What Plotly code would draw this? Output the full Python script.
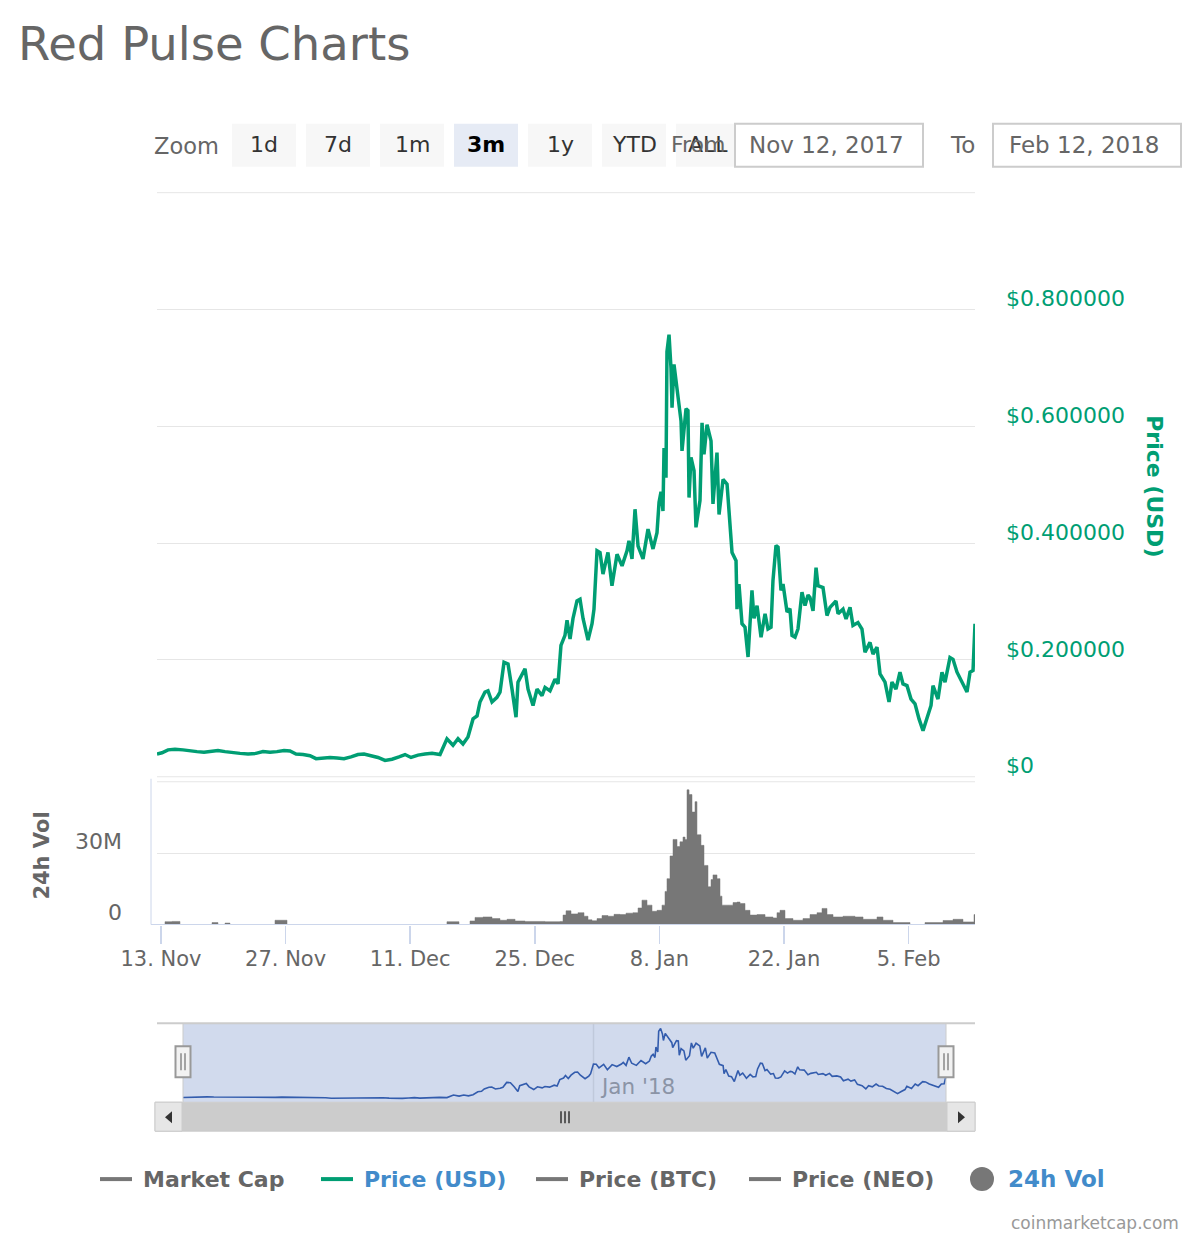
import plotly.graph_objects as go
import pandas as pd

# ---------------- data ----------------
# day offsets from 2017-11-13 00:00 and price in USD
price_day = [
    -0.45, 0.11, 0.79, 1.57, 2.47, 3.26, 4.04, 4.83, 5.73, 6.40,
    7.19, 7.98, 8.88, 9.78, 10.67, 11.46, 12.25, 13.03, 13.82, 14.49,
    15.17, 15.96, 16.74, 17.42, 18.20, 18.99, 19.78, 20.56, 21.35, 22.13,
    22.81, 23.60, 24.38, 25.17, 25.96, 26.74, 27.42, 28.09, 28.88, 29.66,
    30.45, 31.35,
    32.13, 32.81, 33.37, 33.93, 34.49, 35.06, 35.51, 35.84, 36.40, 36.74,
    37.19, 37.75, 38.09, 38.54, 38.99, 39.44, 39.89, 40.11, 40.90, 41.24,
    41.80, 42.25, 42.81, 43.15, 43.71, 44.27, 44.61, 44.94, 45.39, 45.62,
    45.96, 46.29, 46.74, 47.08, 47.42, 47.98, 48.43, 48.65, 48.99, 49.33,
    49.66, 50.22, 50.67, 51.24, 51.80, 52.36, 52.58, 52.92, 53.26, 53.60,
    54.16, 54.72, 55.28, 55.73, 55.96, 56.18, 56.40, 56.52, 56.74, 56.85,
    57.08, 57.30, 57.42, 57.64, 57.98, 58.43, 58.54, 58.99, 59.21, 59.33,
    59.55, 59.89, 60.11, 60.56, 60.79, 61.01, 61.35, 61.80, 62.02, 62.47,
    62.70, 63.15, 63.60, 63.93, 64.16, 64.61, 64.72, 64.94, 65.28, 65.62,
    65.96, 66.40, 66.63, 66.97, 67.42, 67.87, 68.20, 68.54, 68.76, 69.10,
    69.33, 69.66, 69.89, 70.34, 70.67, 70.90, 71.24, 71.57, 72.02, 72.36,
    72.70, 72.92, 73.26, 73.60, 73.82, 74.38, 74.83, 75.17, 75.84, 76.07,
    76.63, 76.97, 77.42, 77.75, 78.31, 78.76, 79.10, 79.66, 80.00, 80.45,
    80.79, 81.35, 81.80, 82.13, 82.58, 83.03, 83.37, 83.82, 84.27, 84.72,
    85.17, 85.62, 86.07, 86.52, 86.74, 87.30, 87.75, 88.09, 88.65, 88.99,
    89.44, 90.00, 90.56, 90.90, 91.24, 91.46,
]
price_usd = [
    0.039, 0.041, 0.046, 0.047, 0.046, 0.044, 0.043, 0.042, 0.043, 0.045,
    0.043, 0.041, 0.040, 0.039, 0.040, 0.043, 0.042, 0.043, 0.045, 0.044,
    0.039, 0.038, 0.036, 0.031, 0.032, 0.033, 0.032, 0.031, 0.034, 0.038,
    0.039, 0.036, 0.033, 0.028, 0.030, 0.034, 0.038, 0.033, 0.037, 0.039,
    0.040, 0.038,
    0.065, 0.054, 0.065, 0.056, 0.068, 0.099, 0.104, 0.128, 0.145, 0.147,
    0.128, 0.136, 0.145, 0.196, 0.193, 0.150, 0.102, 0.162, 0.185, 0.150,
    0.122, 0.150, 0.139, 0.153, 0.147, 0.167, 0.159, 0.225, 0.242, 0.268,
    0.236, 0.271, 0.301, 0.304, 0.271, 0.234, 0.262, 0.287, 0.387, 0.384,
    0.347, 0.384, 0.327, 0.381, 0.361, 0.387, 0.404, 0.373, 0.458, 0.395,
    0.373, 0.424, 0.390, 0.418, 0.470, 0.488, 0.455, 0.563, 0.512, 0.728,
    0.757, 0.700, 0.632, 0.706, 0.666, 0.609, 0.558, 0.630, 0.627, 0.478,
    0.547, 0.524, 0.427, 0.473, 0.606, 0.552, 0.603, 0.575, 0.467, 0.555,
    0.449, 0.509, 0.501, 0.438, 0.384, 0.370, 0.287, 0.330, 0.262, 0.256,
    0.205, 0.319, 0.271, 0.293, 0.239, 0.279, 0.253, 0.256, 0.336, 0.396,
    0.393, 0.319, 0.330, 0.282, 0.288, 0.242, 0.239, 0.253, 0.316, 0.293,
    0.311, 0.307, 0.284, 0.358, 0.327, 0.324, 0.276, 0.290, 0.301, 0.279,
    0.287, 0.270, 0.290, 0.259, 0.264, 0.253, 0.213, 0.230, 0.210, 0.222,
    0.176, 0.162, 0.128, 0.162, 0.150, 0.179, 0.159, 0.156, 0.133, 0.125,
    0.099, 0.079, 0.102, 0.122, 0.156, 0.133, 0.179, 0.162, 0.204, 0.201,
    0.179, 0.162, 0.145, 0.179, 0.182, 0.262,
]
# 24h volume (millions USD)
vol_day = [
    -0.45, 0.45, 1.24, 2.13, 5.73, 6.40, 7.19, 7.75, 12.81, 14.16,
    32.13, 33.48, 34.72, 35.28, 36.18, 37.19, 38.09, 38.88, 39.78, 40.90,
    43.15, 44.83, 45.17, 45.51, 46.07, 46.85, 47.53, 47.98, 48.43, 48.99,
    49.55, 50.22, 50.90, 51.57, 52.25, 53.03, 53.60, 54.04, 54.61, 55.17,
    55.73, 56.29, 56.63, 56.85, 57.19, 57.53, 57.98, 58.31, 58.65, 58.88,
    59.10, 59.33, 59.66, 60.00, 60.22, 60.67, 61.01, 61.46, 61.80, 62.02,
    62.47, 62.81, 63.03, 63.71, 64.27, 64.72, 65.06, 65.62, 66.18, 66.97,
    67.87, 68.76, 69.21, 69.55, 70.11, 71.01, 72.13, 72.92, 73.71, 74.27,
    74.83, 75.51, 76.63, 77.98, 78.88, 80.45, 81.12, 82.25, 83.82, 84.16,
    85.84, 87.87, 88.99, 90.11, 91.12, 91.35, 91.46,
]
vol_m = [
    0, 1.2, 1.3, 0, 0.8, 0, 0.6, 0, 1.8, 0,
    1.2, 0, 1.5, 3.0, 3.2, 2.5, 1.8, 2.2, 1.5, 1.3,
    1.2, 1.3, 4.0, 5.8, 4.5, 5.0, 3.5, 2.0, 1.6, 2.5,
    3.8, 3.5, 4.3, 4.2, 4.8, 5.0, 7.0, 10.3, 8.2, 5.6,
    6.0, 8.2, 14.0, 19.4, 29.0, 36.0, 33.0, 35.0, 37.0, 36.0,
    57.0, 55.0, 47.6, 52.0, 38.0, 33.5, 25.0, 16.0, 19.0, 21.0,
    19.4, 12.0, 8.2, 8.2, 9.3, 9.5, 8.9, 6.0, 4.0, 4.2,
    3.2, 2.8, 5.0, 6.0, 2.5, 1.8, 2.5, 4.2, 5.0, 6.8,
    4.2, 3.2, 3.5, 3.2, 2.2, 3.2, 1.8, 0.8, 0.8, 0,
    0.8, 1.7, 2.2, 1.1, 1.1, 4.2, 4.2,
]
x_tick_dates = ["2017-11-13", "2017-11-27", "2017-12-11", "2017-12-25",
                "2018-01-08", "2018-01-22", "2018-02-05"]
price_ticks = [0, 0.2, 0.4, 0.6, 0.8, 1.0]
price_tick_text = ["$0", "$0.200000", "$0.400000", "$0.600000", "$0.800000", ""]
vol_ticks = [0, 30e6, 60e6]
vol_tick_text = ["0", "30M", ""]
zoom_buttons = ["1d", "7d", "1m", "3m", "1y", "YTD", "ALL"]
legend_items = ["Market Cap", "Price (USD)", "Price (BTC)", "Price (NEO)", "24h Vol"]

assert len(price_day) == len(price_usd)
assert len(vol_day) == len(vol_m)

# ---------------- layout helpers ----------------
W, H = 1200, 1240
L, R = 157, 975            # plot area in window pixels
def px(x):
    return (x - L) / (R - L)
def py(y):
    return 1 - y / H

base = pd.Timestamp("2017-11-13")
p_dates = [base + pd.Timedelta(days=d) for d in price_day]
v_dates = [base + pd.Timedelta(days=d) for d in vol_day]
v_vals = [v * 1e6 for v in vol_m]
x_start = base + pd.Timedelta(days=-0.45)
x_end = base + pd.Timedelta(days=91.46)
nav_start = x_start - pd.Timedelta(days=3.13)
nav_end = x_end + pd.Timedelta(days=3.49)

GREEN = "#009e73"
GREY_TXT = "#666666"
BLUE_TXT = "#428bca"
FONT = "DejaVu Sans"

fig = go.Figure()
fig.add_trace(go.Scatter(x=p_dates, y=price_usd, mode="lines",
                         line=dict(color=GREEN, width=3.5), xaxis="x", yaxis="y",
                         name="Price (USD)", hoverinfo="skip"))
fig.add_trace(go.Scatter(x=v_dates, y=v_vals, mode="lines", line_shape="hv",
                         line=dict(color="#777777", width=0.5), fill="tozeroy",
                         fillcolor="#777777", xaxis="x2", yaxis="y2",
                         name="24h Vol", hoverinfo="skip"))
fig.add_trace(go.Scatter(x=p_dates, y=price_usd, mode="lines",
                         line=dict(color="#335cad", width=1.6), xaxis="x3", yaxis="y3",
                         name="navigator", hoverinfo="skip"))

shapes = []
ann = []

def rect(x0, y0, x1, y1, fill, line="rgba(0,0,0,0)", lw=0, layer="above"):
    shapes.append(dict(type="rect", xref="paper", yref="paper",
                       x0=px(x0), x1=px(x1), y0=py(y1), y1=py(y0),
                       fillcolor=fill, line=dict(color=line, width=lw), layer=layer))

def seg(x0, y0, x1, y1, color, w=1, layer="above"):
    shapes.append(dict(type="line", xref="paper", yref="paper",
                       x0=px(x0), x1=px(x1), y0=py(y0), y1=py(y1),
                       line=dict(color=color, width=w), layer=layer))

def text(x, y, s, size=21, color=GREY_TXT, xanchor="left", angle=0):
    ann.append(dict(xref="paper", yref="paper", x=px(x), y=py(y), text=s,
                    showarrow=False, xanchor=xanchor, yanchor="middle", borderpad=0,
                    textangle=angle, font=dict(family=FONT, size=size, color=color)))

# title
text(17, 44, "Red Pulse Charts", size=46.5, color="#666666")

# range selector
text(153, 146, "Zoom", size=22.5)
for i, lab in enumerate(zoom_buttons):
    x0 = 232 + 74 * i
    sel = lab == "3m"
    rect(x0, 124, x0 + 64, 167, "#e6ebf5" if sel else "#f7f7f7")
    text(x0 + 32, 145, f"<b>{lab}</b>" if sel else lab, size=22,
         color="#000000" if sel else "#333333", xanchor="center")
text(727, 145, "From", size=22, color=GREY_TXT, xanchor="right")
rect(735, 124, 923, 167, "#ffffff", "#cccccc", 2)
text(748, 145, "Nov 12, 2017", size=23, xanchor="left")
text(962, 145, "To", size=23, xanchor="center")
rect(993, 124, 1181, 167, "#ffffff", "#cccccc", 2)
text(1008, 145, "Feb 12, 2018", size=23, xanchor="left")

# price grid lines at the pane edges (top and zero line)
seg(157, 193, 975, 193, "#e6e6e6", 1, layer="below")
seg(157, 778, 975, 778, "#e6e6e6", 1, layer="below")
seg(157, 783, 975, 783, "#e6e6e6", 1, layer="below")

# axis titles
text(1155, 487, "<b>Price (USD)</b>", size=22, color=GREEN, xanchor="center", angle=90)
text(42, 857, "<b>24h Vol</b>", size=21, color=GREY_TXT, xanchor="center", angle=-90)

# volume axis lines
seg(151, 780, 151, 926, "#ccd6eb", 1)
seg(151, 926, 975, 926, "#ccd6eb", 1)

# navigator
shapes.append(dict(type="rect", xref="x3", yref="paper", x0=x_start, x1=x_end,
                   y0=py(1104), y1=py(1025), fillcolor="rgba(102,133,194,0.3)",
                   line=dict(width=0), layer="below"))
shapes.append(dict(type="line", xref="x3", yref="paper", x0="2018-01-01", x1="2018-01-01",
                   y0=py(1104), y1=py(1025), line=dict(color="#c0c9db", width=1.5),
                   layer="below"))
text(599, 1088, "Jan '18", size=21.5, color="#8b94a6")
seg(157, 1025, 975, 1025, "#cccccc", 2)
seg(183, 1025, 183, 1104, "#cccccc", 1)
seg(946, 1025, 946, 1104, "#cccccc", 1)
for cx in (183, 946):
    rect(cx - 7.5, 1048, cx + 7.5, 1079, "#f2f2f2", "#999999", 2)
    seg(cx - 2, 1055, cx - 2, 1072, "#888888", 1.5)
    seg(cx + 2, 1055, cx + 2, 1072, "#888888", 1.5)

# scrollbar
rect(155, 1104, 975, 1133, "#cccccc", "#cccccc", 1)
rect(155, 1104, 182, 1133, "#e6e6e6", "#cccccc", 1)
rect(947, 1104, 975, 1133, "#e6e6e6", "#cccccc", 1)
shapes.append(dict(type="path", xref="paper", yref="paper",
                   path=f"M {px(172)} {py(1113)} L {px(172)} {py(1125)} L {px(165)} {py(1119)} Z",
                   fillcolor="#333333", line=dict(width=0)))
shapes.append(dict(type="path", xref="paper", yref="paper",
                   path=f"M {px(958)} {py(1113)} L {px(958)} {py(1125)} L {px(965)} {py(1119)} Z",
                   fillcolor="#333333", line=dict(width=0)))
for gx in (561, 565, 569):
    seg(gx, 1113, gx, 1125, "#333333", 1.5)

# legend
legend_x = [100, 321, 536, 749]
legend_sym = ["#777777", GREEN, "#777777", "#777777"]
legend_txt = [GREY_TXT, BLUE_TXT, GREY_TXT, GREY_TXT]
for lab, x0, sc, tc in zip(legend_items[:4], legend_x, legend_sym, legend_txt):
    seg(x0, 1181, x0 + 32, 1181, sc, 4)
    text(x0 + 42, 1181, f"<b>{lab}</b>", size=22, color=tc)
shapes.append(dict(type="circle", xref="paper", yref="paper",
                   x0=px(970), x1=px(994), y0=py(1193), y1=py(1169),
                   fillcolor="#777777", line=dict(width=0)))
text(1007, 1181, f"<b>{legend_items[4]}</b>", size=23, color=BLUE_TXT)

# credits
text(1180, 1225, "coinmarketcap.com", size=17, color="#999999", xanchor="right")

fig.update_layout(
    width=W, height=H,
    margin=dict(l=L, r=W - R, t=0, b=0, pad=0),
    paper_bgcolor="white", plot_bgcolor="white",
    showlegend=False,
    font=dict(family=FONT, color=GREY_TXT),
    shapes=shapes, annotations=ann,
    xaxis=dict(domain=[0, 1], anchor="y", range=[x_start, x_end], visible=False,
               showgrid=False, fixedrange=True),
    yaxis=dict(domain=[py(778), py(193)], anchor="x", range=[0, 1.0], side="right",
               tickvals=price_ticks, ticktext=price_tick_text,
               showgrid=True, gridcolor="#e6e6e6", gridwidth=1, zeroline=False,
               showline=False, ticks="", ticklabelshift=-11, ticklabelstandoff=30,
               tickfont=dict(family=FONT, size=22, color=GREEN), fixedrange=True),
    xaxis2=dict(domain=[0, 1], anchor="y2", range=[x_start, x_end],
                tickvals=x_tick_dates, tickformat="%-d. %b",
                ticks="outside", ticklen=18, tickcolor="#ccd6eb", tickwidth=1.5,
                ticklabelstandoff=-3,
                showline=False, showgrid=False, zeroline=False,
                tickfont=dict(family=FONT, size=21, color=GREY_TXT), fixedrange=True),
    yaxis2=dict(domain=[py(926), py(784)], anchor="x2", range=[0, 60e6], side="left",
                tickvals=vol_ticks, ticktext=vol_tick_text,
                showgrid=True, gridcolor="#e6e6e6", gridwidth=1, zeroline=False,
                showline=False, ticks="", ticklabelshift=-12, ticklabelstandoff=34,
                tickfont=dict(family=FONT, size=22, color=GREY_TXT), fixedrange=True),
    xaxis3=dict(domain=[0, 1], anchor="y3", range=[nav_start, nav_end], visible=False,
                showgrid=False, fixedrange=True),
    yaxis3=dict(domain=[py(1104), py(1025)], anchor="x3", range=[-0.01, 0.81],
                visible=False, showgrid=False, fixedrange=True),
)

page_css = ("document.documentElement.style.margin='0';"
            "document.body.style.margin='0';"
            "document.documentElement.style.overflow='hidden';"
            "document.body.style.overflow='hidden';")
fig.write_html("out.html", config={"displayModeBar": False, "staticPlot": True},
               post_script=page_css)
